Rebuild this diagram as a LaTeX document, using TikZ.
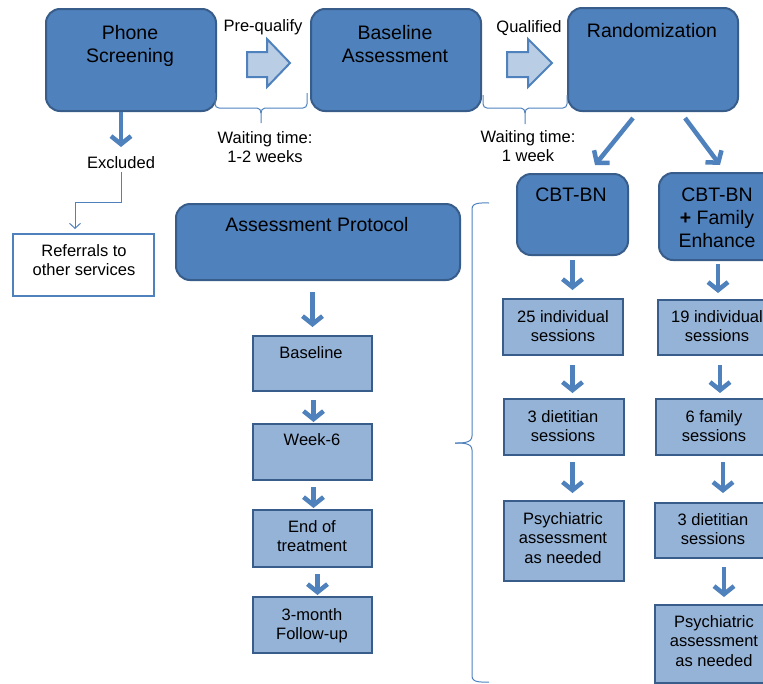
\documentclass[tikz,border=0pt]{standalone}
\usepackage{fontspec}
\setmainfont{Liberation Sans}
\usetikzlibrary{arrows.meta,calc}
\definecolor{dk}{HTML}{4F81BD}
\definecolor{dkb}{HTML}{385D8A}
\definecolor{lt}{HTML}{95B3D7}
\definecolor{la}{HTML}{B9CDE5}
\tikzset{
 dbox/.style={draw=dkb, fill=dk, line width=2pt, rounded corners=14pt, anchor=north west, inner sep=0},
 lbox/.style={draw=dkb, fill=lt, line width=2pt, anchor=north west, inner sep=0},
 wbox/.style={draw=dk, fill=white, line width=2pt, anchor=north west, inner sep=0},
 bigt/.style={font=\fontsize{19.5}{23}\selectfont, align=center, anchor=north, inner sep=0},
 smt/.style={font=\fontsize{16.5}{19.5}\selectfont, align=center, anchor=north, inner sep=0},
 bigarrow/.style={draw=dk, line width=4.5pt, -{Straight Barb[length=8pt,width=20pt]}},
 thinarrow/.style={draw=dk, line width=1pt, -{Straight Barb[length=5pt,width=11pt]}},
 brace/.style={draw=dk, line width=1pt},
 blockarrow/.style={draw=dk, fill=la, line width=2pt, line join=miter},
}
\begin{document}
\begin{tikzpicture}[x=1pt,y=-1pt]
\useasboundingbox (0,0) rectangle (763,683);
\clip (0,0) rectangle (763,683);
% top row boxes
\node[dbox, minimum width=170pt, minimum height=102pt] (ps) at (45,8) {};
\node[dbox, minimum width=170pt, minimum height=102pt] (ba) at (310,8) {};
\node[dbox, minimum width=170pt, minimum height=103pt] (rd) at (567,7) {};
\node[bigt] (pst) at (130,25) {Phone\\Screening};
\node[bigt] (bat) at (395,25) {Baseline\\Assessment};
\node[bigt] (rdt) at (652,23) {Randomization};
\node[smt] (preq) at (263,19) {Pre-qualify};
\node[smt] (qual) at (529,20) {Qualified};
% block arrows
\draw[blockarrow] (247,52) -- (267,52) -- (267,39) -- (290,63) -- (267,87) -- (267,77) -- (247,77) -- cycle;
\draw[blockarrow] (507,52) -- (528,52) -- (528,39) -- (552,63) -- (528,87) -- (528,77) -- (507,77) -- cycle;
% braces under
\draw[brace] (215,93) -- (215,104) to[out=-90,in=180] (219,108) -- (257,108) to[out=0,in=90] (261,113) -- (261,123);
\draw[brace] (261,113) to[out=90,in=180] (265,108) -- (303,108) to[out=0,in=-90] (307,104) -- (307,93);
\draw[brace] (483,95) -- (483,104) to[out=-90,in=180] (487,108) -- (521,108) to[out=0,in=90] (525,113) -- (525,124);
\draw[brace] (525,113) to[out=90,in=180] (529,108) -- (563,108) to[out=0,in=-90] (567,104) -- (567,95);
\node[smt] (wt1) at (265,131) {Waiting time:\\1-2 weeks};
\node[smt] (wt2) at (528,130) {Waiting time:\\1 week};
% excluded
\node[smt] (excl) at (121,156) {Excluded};
\draw[bigarrow, shorten >=9pt] (excl.north |- ps.south) -- (excl.north);
\node[wbox, minimum width=141pt, minimum height=62pt] (ref) at (12,233) {};
\node[smt] (reft) at (84,244) {Referrals to\\other services};
\coordinate (bend) at (75,202);
\draw[thinarrow, shorten <=3pt, shorten >=4pt] (excl.south) |- (bend) -- (bend |- ref.north);
% assessment protocol
\node[dbox, minimum width=284pt, minimum height=76pt] (ap) at (175,203) {};
\node[bigt] (apt) at (317,217) {Assessment Protocol};
\node[lbox, minimum width=119pt, minimum height=55pt] (bl) at (252,335) {};
\node[lbox, minimum width=119pt, minimum height=56pt] (w6) at (252,423) {};
\node[lbox, minimum width=119pt, minimum height=57pt] (eot) at (252,509) {};
\node[lbox, minimum width=119pt, minimum height=56pt] (fu) at (252,596) {};
\node[smt] (blt) at (311,346) {Baseline};
\node[smt] (w6t) at (312,433) {Week-6};
\node[smt] (eott) at (312,520) {End of\\treatment};
\node[smt] (fut) at (312,608) {3-month\\Follow-up};
\draw[bigarrow, shorten <=11pt, shorten >=8pt] (bl.north |- ap.south) -- (bl.north);
\draw[bigarrow, shorten <=8pt, shorten >=1pt] ($(bl.south)+(1,0)$) -- ($(w6.north)+(1,0)$);
\draw[bigarrow, shorten <=6pt, shorten >=1pt] ($(w6.south)+(1,0)$) -- ($(eot.north)+(1,0)$);
\draw[bigarrow, shorten <=6pt, shorten >=1pt] ($(eot.south)+(5,0)$) -- ($(fu.north)+(5,0)$);
% big brace
\draw[brace] (489,203) to[out=180,in=90] (472,209) -- (472,436) to[out=-90,in=0] (455,443);
\draw[brace] (455,443) to[out=0,in=90] (472,450) -- (472,676) to[out=-90,in=180] (489,682);
% randomization arrows
\coordinate (r1s) at (633,118);
\coordinate (r1e) at (595,165);
\coordinate (r2s) at (685,118);
\coordinate (r2e) at (720,165);
\draw[bigarrow] (r1s) -- (r1e);
\draw[bigarrow] (r2s) -- (r2e);
% arms
\node[dbox, minimum width=111pt, minimum height=81pt] (cbt) at (516,173) {};
\node[dbox, minimum width=118pt, minimum height=87pt] (cbf) at (658,172) {};
\node[bigt] (cbtt) at (571,188) {CBT-BN};
\node[bigt] (cbft) at (717,188) {CBT-BN\\\textbf{+} Family\\Enhance};
\node[lbox, minimum width=120pt, minimum height=56pt] (i25) at (502,298) {};
\node[lbox, minimum width=119pt, minimum height=55pt] (i19) at (657,299) {};
\node[lbox, minimum width=120pt, minimum height=56pt] (d3a) at (503,398) {};
\node[lbox, minimum width=121pt, minimum height=56pt] (f6) at (655,398) {};
\node[lbox, minimum width=120pt, minimum height=80pt] (psa) at (503,500) {};
\node[lbox, minimum width=122pt, minimum height=55pt] (d3b) at (654,502) {};
\node[lbox, minimum width=122pt, minimum height=78pt] (psb) at (654,604) {};
\node[smt] (i25t) at (563,310) {25 individual\\sessions};
\node[smt] (i19t) at (717,310) {19 individual\\sessions};
\node[smt] (d3at) at (563,410) {3 dietitian\\sessions};
\node[smt] (f6t) at (714,410) {6 family\\sessions};
\node[smt] (psat) at (563,512) {Psychiatric\\assessment\\as needed};
\node[smt] (d3bt) at (713,513) {3 dietitian\\sessions};
\node[smt] (psbt) at (714,615) {Psychiatric\\assessment\\as needed};
\draw[bigarrow, shorten <=4pt, shorten >=8pt] (cbt.south) -- (cbt.south |- i25.north);
\draw[bigarrow, shorten <=9pt, shorten >=5pt] (cbt.south |- i25.south) -- (cbt.south |- d3a.north);
\draw[bigarrow, shorten <=6pt, shorten >=7pt] (cbt.south |- d3a.south) -- (cbt.south |- psa.north);
\draw[bigarrow, shorten <=3pt, shorten >=6pt] (cbf.south) -- (cbf.south |- i19.north);
\draw[bigarrow, shorten <=9pt, shorten >=5pt] ($(cbf.south |- i19.south)+(2,0)$) -- ($(cbf.south |- f6.north)+(2,0)$);
\draw[bigarrow, shorten <=6pt, shorten >=9pt] ($(cbf.south |- f6.south)+(5,0)$) -- ($(cbf.south |- d3b.north)+(5,0)$);
\draw[bigarrow, shorten <=8pt, shorten >=7pt] ($(cbf.south |- d3b.south)+(6,0)$) -- ($(cbf.south |- psb.north)+(6,0)$);
\end{tikzpicture}
\end{document}
